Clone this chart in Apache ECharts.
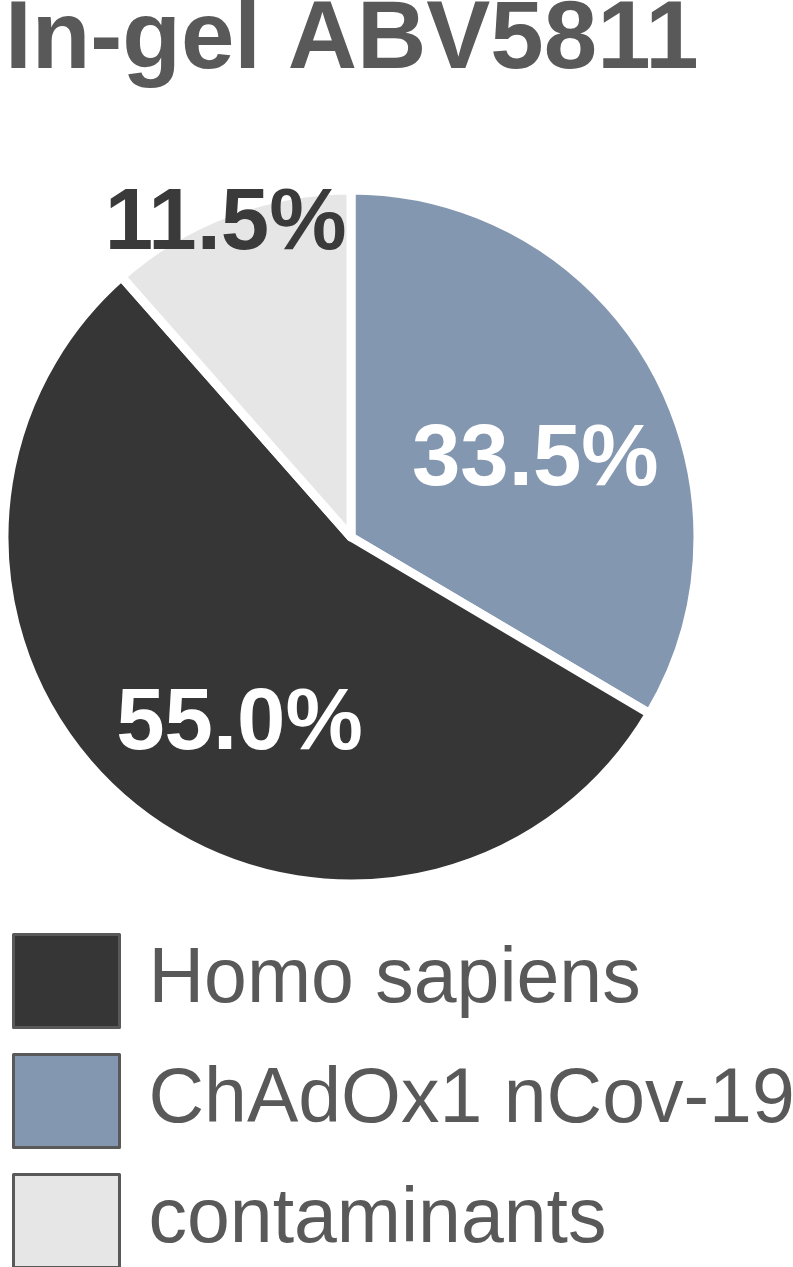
<!DOCTYPE html>
<html>
<head>
<meta charset="utf-8">
<script src="https://cdn.jsdelivr.net/npm/echarts@6/dist/echarts.min.js"></script>
<style>
  html, body { margin: 0; padding: 0; background: #fff; }
  #main { width: 793px; height: 1267px; }
</style>
</head>
<body>
<div id="main"></div>
<script>
// 分类与数值（顺时针，从12点开始）
const categories = ['ChAdOx1 nCov-19', 'Homo sapiens', 'contaminants'];
const values = [33.5, 55.0, 11.5];
const legendOrder = ['Homo sapiens', 'ChAdOx1 nCov-19', 'contaminants'];
const titleText = 'In-gel ABV5811';

// 扇区颜色与标签样式
const colors = ['#8497B0', '#363636', '#E6E6E6'];
const labelColors = ['#ffffff', '#ffffff', '#3a3a3a'];
// 标签相对默认内部位置的偏移
const labelShift = [[31, 11], [1, 52], [-63, -147]];

const myChart = echarts.init(document.getElementById('main'));

const option = {
  animation: false,
  title: {
    text: titleText,
    left: 0,
    top: -11,
    textStyle: {
      color: '#595959',
      fontFamily: 'Liberation Sans, Arial, sans-serif',
      fontWeight: 'bold',
      fontSize: 96
    }
  },
  legend: {
    orient: 'vertical',
    left: 7,
    top: 928,
    height: 500,
    data: legendOrder,
    icon: 'rect',
    itemWidth: 106,
    itemHeight: 93,
    itemGap: 24,
    itemStyle: {
      borderColor: '#595959',
      borderWidth: 3
    },
    textStyle: {
      color: '#595959',
      fontFamily: 'Liberation Sans, Arial, sans-serif',
      fontSize: 77,
      padding: [0, 0, 0, 24]
    }
  },
  series: [{
    type: 'pie',
    center: [351, 537],
    radius: 347,
    startAngle: 90,
    clockwise: true,
    silent: true,
    itemStyle: {
      borderColor: '#ffffff',
      borderWidth: 9
    },
    label: {
      show: true,
      position: 'inside',
      fontFamily: 'Liberation Sans, Arial, sans-serif',
      fontWeight: 'bold',
      fontSize: 87,
      formatter: function (p) {
        return p.value.toFixed(1) + '%';
      }
    },
    labelLine: { show: false },
    labelLayout: function (params) {
      const s = labelShift[params.dataIndex];
      return { dx: s[0], dy: s[1] };
    },
    data: categories.map(function (name, i) {
      return {
        name: name,
        value: values[i],
        itemStyle: { color: colors[i] },
        label: { color: labelColors[i] }
      };
    })
  }]
};

myChart.setOption(option);
window.onresize = myChart.resize;
</script>
</body>
</html>
